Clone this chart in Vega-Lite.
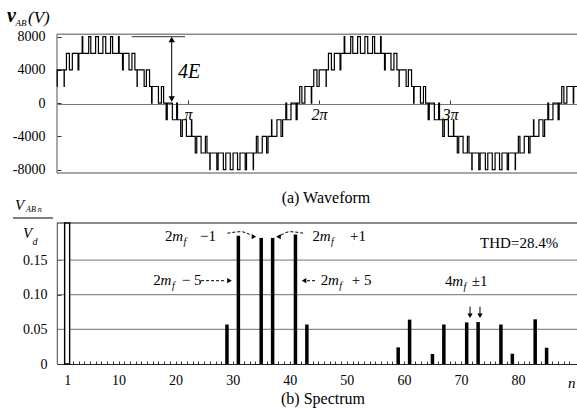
{
  "$schema": "https://vega.github.io/schema/vega-lite/v6.json",
  "width": 520,
  "height": 330,
  "autosize": {"type": "none"},
  "padding": {"left": 57, "top": 34, "right": 0, "bottom": 45},
  "background": "white",
  "config": {
    "view": {"stroke": null},
    "font": "Liberation Serif",
    "text": {"font": "Liberation Serif", "color": "black"},
    "axis": {"labelFont": "Liberation Serif", "labelColor": "black", "labelOverlap": false, "labelBound": false, "labelFlush": false, "grid": false, "title": null}
  },
  "datasets": {
    "wave": [
      {"t":0,"v":2000},{"t":0.0014,"v":4000},{"t":0.0542,"v":2000},{"t":0.0556,"v":4000},{"t":0.0721,"v":6000},{"t":0.0946,"v":4000},{"t":0.1171,"v":6000},{"t":0.1607,"v":4000},{"t":0.1667,"v":6000},{"t":0.1922,"v":8000},{"t":0.1967,"v":6000},{"t":0.2421,"v":8000},{"t":0.2579,"v":6000},{"t":0.2948,"v":8000},{"t":0.3163,"v":6000},{"t":0.3504,"v":8000},{"t":0.3719,"v":6000},{"t":0.4088,"v":8000},{"t":0.4246,"v":6000},{"t":0.47,"v":8000},{"t":0.4745,"v":6000},{"t":0.5,"v":4000},{"t":0.506,"v":6000},{"t":0.5496,"v":4000},{"t":0.5721,"v":6000},{"t":0.5946,"v":4000},{"t":0.6111,"v":2000},{"t":0.6125,"v":4000},{"t":0.6653,"v":2000},{"t":0.6823,"v":4000},{"t":0.7066,"v":2000},{"t":0.7222,"v":0},{"t":0.7256,"v":2000},{"t":0.7744,"v":0},{"t":0.7973,"v":2000},{"t":0.8138,"v":0},{"t":0.8333,"v":-2000},{"t":0.8416,"v":0},{"t":0.8807,"v":-2000},{"t":0.9133,"v":0},{"t":0.92,"v":-2000},{"t":0.9444,"v":-4000},{"t":0.9566,"v":-2000},{"t":0.9879,"v":-4000},{"t":1.0264,"v":-2000},{"t":1.0292,"v":-4000},{"t":1.0556,"v":-6000},{"t":1.0668,"v":-4000},{"t":1.0999,"v":-6000},{"t":1.1329,"v":-4000},{"t":1.1449,"v":-6000},{"t":1.1667,"v":-8000},{"t":1.1689,"v":-6000},{"t":1.22,"v":-8000},{"t":1.2301,"v":-6000},{"t":1.2699,"v":-8000},{"t":1.2885,"v":-6000},{"t":1.3226,"v":-8000},{"t":1.3441,"v":-6000},{"t":1.3781,"v":-8000},{"t":1.3968,"v":-6000},{"t":1.4366,"v":-8000},{"t":1.4467,"v":-6000},{"t":1.4977,"v":-8000},{"t":1.5,"v":-6000},{"t":1.5218,"v":-4000},{"t":1.5338,"v":-6000},{"t":1.5668,"v":-4000},{"t":1.5999,"v":-6000},{"t":1.6111,"v":-4000},{"t":1.6375,"v":-2000},{"t":1.6403,"v":-4000},{"t":1.6788,"v":-2000},{"t":1.7101,"v":-4000},{"t":1.7222,"v":-2000},{"t":1.7467,"v":0},{"t":1.7533,"v":-2000},{"t":1.786,"v":0},{"t":1.8251,"v":-2000},{"t":1.8333,"v":0},{"t":1.8529,"v":2000},{"t":1.8694,"v":0},{"t":1.8922,"v":2000},{"t":1.9411,"v":0},{"t":1.9444,"v":2000},{"t":1.9601,"v":4000},{"t":1.9844,"v":2000},
      {"t":2.0014,"v":4000},{"t":2.0542,"v":2000},{"t":2.0556,"v":4000},{"t":2.0721,"v":6000},{"t":2.0946,"v":4000},{"t":2.1171,"v":6000},{"t":2.1607,"v":4000},{"t":2.1667,"v":6000},{"t":2.1922,"v":8000},{"t":2.1967,"v":6000},{"t":2.2421,"v":8000},{"t":2.2579,"v":6000},{"t":2.2948,"v":8000},{"t":2.3163,"v":6000},{"t":2.3504,"v":8000},{"t":2.3719,"v":6000},{"t":2.4088,"v":8000},{"t":2.4246,"v":6000},{"t":2.47,"v":8000},{"t":2.4745,"v":6000},{"t":2.5,"v":4000},{"t":2.506,"v":6000},{"t":2.5496,"v":4000},{"t":2.5721,"v":6000},{"t":2.5946,"v":4000},{"t":2.6111,"v":2000},{"t":2.6125,"v":4000},{"t":2.6653,"v":2000},{"t":2.6823,"v":4000},{"t":2.7066,"v":2000},{"t":2.7222,"v":0},{"t":2.7256,"v":2000},{"t":2.7744,"v":0},{"t":2.7973,"v":2000},{"t":2.8138,"v":0},{"t":2.8333,"v":-2000},{"t":2.8416,"v":0},{"t":2.8807,"v":-2000},{"t":2.9133,"v":0},{"t":2.92,"v":-2000},{"t":2.9444,"v":-4000},{"t":2.9566,"v":-2000},{"t":2.9879,"v":-4000},{"t":3.0264,"v":-2000},{"t":3.0292,"v":-4000},{"t":3.0556,"v":-6000},{"t":3.0668,"v":-4000},{"t":3.0999,"v":-6000},{"t":3.1329,"v":-4000},{"t":3.1449,"v":-6000},{"t":3.1667,"v":-8000},{"t":3.1689,"v":-6000},{"t":3.22,"v":-8000},{"t":3.2301,"v":-6000},{"t":3.2699,"v":-8000},{"t":3.2885,"v":-6000},{"t":3.3226,"v":-8000},{"t":3.3441,"v":-6000},{"t":3.3781,"v":-8000},{"t":3.3968,"v":-6000},{"t":3.4366,"v":-8000},{"t":3.4467,"v":-6000},{"t":3.4977,"v":-8000},{"t":3.5,"v":-6000},{"t":3.5218,"v":-4000},{"t":3.5338,"v":-6000},{"t":3.5668,"v":-4000},{"t":3.5999,"v":-6000},{"t":3.6111,"v":-4000},{"t":3.6375,"v":-2000},{"t":3.6403,"v":-4000},{"t":3.6788,"v":-2000},{"t":3.7101,"v":-4000},{"t":3.7222,"v":-2000},{"t":3.7467,"v":0},{"t":3.7533,"v":-2000},{"t":3.786,"v":0},{"t":3.8251,"v":-2000},{"t":3.8333,"v":0},{"t":3.8529,"v":2000},{"t":3.8694,"v":0},{"t":3.8922,"v":2000},{"t":3.9411,"v":0},{"t":3.9444,"v":2000},{"t":3.9695,"v":2000}
    ],
    "wFrameH": [{"t":0,"t2":3.9695,"v":8300},{"t":0,"t2":3.9695,"v":-8400}],
    "wFrameV": [{"t":0,"v":-8400,"v2":8300}],
    "wRef": [{"t":0.57,"t2":0.977,"v":8000}],
    "wArrow": [{"t":0.8756,"v":300,"v2":7800}],
    "wHeadUp": [{"t":0.8756,"v":7665}],
    "wHeadDown": [{"t":0.8756,"v":501}],
    "wText4E": [{"t":0.9237,"v":3068,"s":"4E"}],
    "wTitleV": [{"t":-0.3817,"v":9755,"s":"v"}],
    "wTitleSub": [{"t":-0.3168,"v":9337,"s":"AB"}],
    "wTitleUnit": [{"t":-0.2214,"v":9635,"s":"(V)"}],
    "wCaption": [{"t":2.053,"v":-11976,"s":"(a)  Waveform"}],
    "sGrid": [{"n":0.1,"n2":89.45,"a":0.05},{"n":0.1,"n2":89.45,"a":0.1},{"n":0.1,"n2":89.45,"a":0.15}],
    "sTop": [{"n":0.1,"n2":89.45,"a":0.2035}],
    "sLeft": [{"n":0.15,"a":0,"a2":0.2035}],
    "bars": [
      {"n":29,"a":0.057},{"n":31,"a":0.185},{"n":35,"a":0.182},{"n":37,"a":0.182},{"n":41,"a":0.187},{"n":43,"a":0.057},
      {"n":59,"a":0.024},{"n":61,"a":0.064},{"n":65,"a":0.0145},{"n":67,"a":0.057},{"n":71,"a":0.060},{"n":73,"a":0.0605},
      {"n":77,"a":0.057},{"n":79,"a":0.0148},{"n":83,"a":0.0645},{"n":85,"a":0.0235}
    ],
    "fund": [{"n":1,"a":0.2035}],
    "sUp": [
      {"n":18.66,"a":0.1779,"s":"2"},{"n":24.67,"a":0.1779,"s":"−1"},
      {"n":44.0,"a":0.1779,"s":"2"},{"n":50.45,"a":0.1779,"s":"+1"},
      {"n":16.65,"a":0.1144,"s":"2"},{"n":21.53,"a":0.1144,"s":"− 5"},
      {"n":45.41,"a":0.1144,"s":"2"},{"n":50.74,"a":0.1144,"s":"+ 5"},
      {"n":66.77,"a":0.1123,"s":"4"},{"n":71.36,"a":0.1123,"s":"±1"},
      {"n":72.8,"a":0.1678,"s":"THD=28.4%"}
    ],
    "sIt": [
      {"n":19.91,"a":0.1779,"s":"m"},{"n":45.25,"a":0.1779,"s":"m"},{"n":17.9,"a":0.1144,"s":"m"},{"n":46.66,"a":0.1144,"s":"m"},{"n":68.02,"a":0.1123,"s":"m"},
      {"n":-7.11,"a":0.2227,"s":"V"},{"n":-5.74,"a":0.1823,"s":"V"},{"n":87.9,"a":-0.0342,"s":"n"}
    ],
    "sSub": [
      {"n":21.85,"a":0.1722,"s":"f"},{"n":47.19,"a":0.1722,"s":"f"},{"n":19.84,"a":0.1087,"s":"f"},{"n":48.6,"a":0.1087,"s":"f"},{"n":69.96,"a":0.1072,"s":"f"},
      {"n":-4.11,"a":0.1721,"s":"d"}
    ],
    "sSub8": [{"n":-5.22,"a":0.219,"s":"AB n"}],
    "sFracLine": [{"n":-7.46,"n2":-0.58,"a":0.2107}],
    "sCaption": [{"n":45.81,"a":-0.0573,"s":"(b)  Spectrum"}],
    "sDash": [
      {"id":"A","n":29.38,"a":0.1887},{"id":"A","n":31.72,"a":0.1909},{"id":"A","n":33.44,"a":0.1859},
      {"id":"B","n":38.59,"a":0.1859},{"id":"B","n":40.14,"a":0.1909},{"id":"B","n":42.37,"a":0.1887},
      {"id":"C","n":24.85,"a":0.1202},{"id":"C","n":29.14,"a":0.1202},
      {"id":"D","n":43.06,"a":0.1202},{"id":"D","n":44.78,"a":0.1202}
    ],
    "sHeadR": [{"n":33.95,"a":0.1837},{"n":29.74,"a":0.1202}],
    "sHeadL": [{"n":38.16,"a":0.1837},{"n":42.54,"a":0.1202}],
    "sVArrow": [{"n":71.07,"a":0.0827,"a2":0.0697},{"n":72.78,"a":0.0827,"a2":0.0697}],
    "sHeadD": [{"n":71.07,"a":0.0697},{"n":72.78,"a":0.0697}]
  },
  "layer": [
    {"data":{"name":"wFrameH"},"mark":{"type":"rule","color":"#8a8a8a","strokeWidth":1.5},
     "encoding":{"x":{"field":"t","type":"quantitative","scale":{"domain":[0,3.9695],"nice":false,"zero":false},"axis":null},"x2":{"field":"t2"},
                 "y":{"field":"v","type":"quantitative","scale":{"domain":[-31402,8322],"nice":false,"zero":false},"axis":null}}},
    {"data":{"name":"wFrameV"},"mark":{"type":"rule","color":"#555","strokeWidth":1},
     "encoding":{"x":{"field":"t","type":"quantitative","scale":{"domain":[0,3.9695],"nice":false,"zero":false},"axis":null},
                 "y":{"field":"v","type":"quantitative","scale":{"domain":[-31402,8322],"nice":false,"zero":false},"axis":null},"y2":{"field":"v2"}}},
    {"data":{"name":"wRef"},"mark":{"type":"rule","color":"#333","strokeWidth":1},
     "encoding":{"x":{"field":"t","type":"quantitative","scale":{"domain":[0,3.9695],"nice":false,"zero":false},"axis":null},"x2":{"field":"t2"},
                 "y":{"field":"v","type":"quantitative","scale":{"domain":[-31402,8322],"nice":false,"zero":false},"axis":null}}},
    {"data":{"name":"wave"},"mark":{"type":"line","interpolate":"step-after","color":"black","strokeWidth":1.2},
     "encoding":{
       "x":{"field":"t","type":"quantitative","scale":{"domain":[0,3.9695],"nice":false,"zero":false},
            "axis":{"orient":"bottom","offset":-260,"values":[1,2,3],"labelExpr":"datum.value == 1 ? 'π' : datum.value + 'π'",
                    "tickSize":-4,"tickColor":"#333","domain":true,"domainColor":"#777","domainWidth":1.2,
                    "labelFontSize":16,"labelFontStyle":"italic","labelPadding":6,"labelDx":4}},
       "y":{"field":"v","type":"quantitative","scale":{"domain":[-31402,8322],"nice":false,"zero":false},
            "axis":{"orient":"left","values":[8000,4000,0,-4000,-8000],"labelExpr":"datum.value < 0 ? '-' + abs(datum.value) : '' + datum.value",
                    "tickSize":-4,"tickColor":"#333","domain":false,"labelFontSize":14,"labelPadding":16}}}},
    {"data":{"name":"wArrow"},"mark":{"type":"rule","color":"black","strokeWidth":1},
     "encoding":{"x":{"field":"t","type":"quantitative","scale":{"domain":[0,3.9695],"nice":false,"zero":false},"axis":null},
                 "y":{"field":"v","type":"quantitative","scale":{"domain":[-31402,8322],"nice":false,"zero":false},"axis":null},"y2":{"field":"v2"}}},
    {"data":{"name":"wHeadUp"},"mark":{"type":"point","shape":"triangle-up","filled":true,"color":"black","size":40,"opacity":1},
     "encoding":{"x":{"field":"t","type":"quantitative","scale":{"domain":[0,3.9695],"nice":false,"zero":false},"axis":null},
                 "y":{"field":"v","type":"quantitative","scale":{"domain":[-31402,8322],"nice":false,"zero":false},"axis":null}}},
    {"data":{"name":"wHeadDown"},"mark":{"type":"point","shape":"triangle-down","filled":true,"color":"black","size":40,"opacity":1},
     "encoding":{"x":{"field":"t","type":"quantitative","scale":{"domain":[0,3.9695],"nice":false,"zero":false},"axis":null},
                 "y":{"field":"v","type":"quantitative","scale":{"domain":[-31402,8322],"nice":false,"zero":false},"axis":null}}},
    {"data":{"name":"wText4E"},"mark":{"type":"text","fontStyle":"italic","fontSize":20,"align":"left","baseline":"alphabetic"},
     "encoding":{"x":{"field":"t","type":"quantitative","scale":{"domain":[0,3.9695],"nice":false,"zero":false},"axis":null},
                 "y":{"field":"v","type":"quantitative","scale":{"domain":[-31402,8322],"nice":false,"zero":false},"axis":null},"text":{"field":"s"}}},
    {"data":{"name":"wTitleV"},"mark":{"type":"text","fontStyle":"italic","fontWeight":"bold","fontSize":20,"align":"left","baseline":"alphabetic"},
     "encoding":{"x":{"field":"t","type":"quantitative","scale":{"domain":[0,3.9695],"nice":false,"zero":false},"axis":null},
                 "y":{"field":"v","type":"quantitative","scale":{"domain":[-31402,8322],"nice":false,"zero":false},"axis":null},"text":{"field":"s"}}},
    {"data":{"name":"wTitleSub"},"mark":{"type":"text","fontStyle":"italic","fontSize":9,"align":"left","baseline":"alphabetic"},
     "encoding":{"x":{"field":"t","type":"quantitative","scale":{"domain":[0,3.9695],"nice":false,"zero":false},"axis":null},
                 "y":{"field":"v","type":"quantitative","scale":{"domain":[-31402,8322],"nice":false,"zero":false},"axis":null},"text":{"field":"s"}}},
    {"data":{"name":"wTitleUnit"},"mark":{"type":"text","fontStyle":"italic","fontSize":17,"align":"left","baseline":"alphabetic"},
     "encoding":{"x":{"field":"t","type":"quantitative","scale":{"domain":[0,3.9695],"nice":false,"zero":false},"axis":null},
                 "y":{"field":"v","type":"quantitative","scale":{"domain":[-31402,8322],"nice":false,"zero":false},"axis":null},"text":{"field":"s"}}},
    {"data":{"name":"wCaption"},"mark":{"type":"text","fontSize":16,"align":"center","baseline":"alphabetic"},
     "encoding":{"x":{"field":"t","type":"quantitative","scale":{"domain":[0,3.9695],"nice":false,"zero":false},"axis":null},
                 "y":{"field":"v","type":"quantitative","scale":{"domain":[-31402,8322],"nice":false,"zero":false},"axis":null},"text":{"field":"s"}}},
    {"data":{"name":"sGrid"},"mark":{"type":"rule","color":"#8c8c8c","strokeWidth":1.2},
     "encoding":{"x":{"field":"n","type":"quantitative","scale":{"domain":[0.1,89.45],"nice":false,"zero":false},"axis":null},"x2":{"field":"n2"},
                 "y":{"field":"a","type":"quantitative","scale":{"domain":[0,0.4762],"nice":false,"zero":false},"axis":null}}},
    {"data":{"name":"sTop"},"mark":{"type":"rule","color":"#8c8c8c","strokeWidth":2},
     "encoding":{"x":{"field":"n","type":"quantitative","scale":{"domain":[0.1,89.45],"nice":false,"zero":false},"axis":null},"x2":{"field":"n2"},
                 "y":{"field":"a","type":"quantitative","scale":{"domain":[0,0.4762],"nice":false,"zero":false},"axis":null}}},
    {"data":{"name":"sLeft"},"mark":{"type":"rule","color":"#444","strokeWidth":1},
     "encoding":{"x":{"field":"n","type":"quantitative","scale":{"domain":[0.1,89.45],"nice":false,"zero":false},"axis":null},
                 "y":{"field":"a","type":"quantitative","scale":{"domain":[0,0.4762],"nice":false,"zero":false},"axis":null},"y2":{"field":"a2"}}},
    {"data":{"name":"bars"},"mark":{"type":"bar","color":"black","size":3.5},
     "encoding":{
       "x":{"field":"n","type":"quantitative","scale":{"domain":[0.1,89.45],"nice":false,"zero":false},
            "axis":{"orient":"bottom","values":[1,2,3,4,5,6,7,8,9,10,11,12,13,14,15,16,17,18,19,20,21,22,23,24,25,26,27,28,29,30,31,32,33,34,35,36,37,38,39,40,41,42,43,44,45,46,47,48,49,50,51,52,53,54,55,56,57,58,59,60,61,62,63,64,65,66,67,68,69,70,71,72,73,74,75,76,77,78,79,80,81,82,83,84,85,86,87,88,89],
                    "labelExpr":"indexof([1,10,20,30,40,50,60,70,80], datum.value) >= 0 ? datum.label : ''",
                    "tickSize":-3,"tickColor":"#333","domain":true,"domainColor":"#222","domainWidth":1.2,
                    "labelFontSize":14,"labelPadding":12}},
       "y":{"field":"a","type":"quantitative","scale":{"domain":[0,0.4762],"nice":false,"zero":false},
            "axis":{"orient":"left","values":[0,0.05,0.1,0.15],"labelExpr":"datum.value == 0 ? '0' : format(datum.value, '.2f')",
                    "tickSize":-4,"tickColor":"#333","domain":false,"labelFontSize":14,"labelPadding":14}}}},
    {"data":{"name":"fund"},"mark":{"type":"bar","fill":"white","stroke":"black","strokeWidth":1.4,"size":5},
     "encoding":{"x":{"field":"n","type":"quantitative","scale":{"domain":[0.1,89.45],"nice":false,"zero":false},"axis":null},
                 "y":{"field":"a","type":"quantitative","scale":{"domain":[0,0.4762],"nice":false,"zero":false},"axis":null}}},
    {"data":{"name":"sFracLine"},"mark":{"type":"rule","color":"black","strokeWidth":1},
     "encoding":{"x":{"field":"n","type":"quantitative","scale":{"domain":[0.1,89.45],"nice":false,"zero":false},"axis":null},"x2":{"field":"n2"},
                 "y":{"field":"a","type":"quantitative","scale":{"domain":[0,0.4762],"nice":false,"zero":false},"axis":null}}},
    {"data":{"name":"sDash"},"mark":{"type":"line","color":"black","strokeWidth":1,"strokeDash":[3,2],"interpolate":"monotone"},
     "encoding":{"x":{"field":"n","type":"quantitative","scale":{"domain":[0.1,89.45],"nice":false,"zero":false},"axis":null},
                 "y":{"field":"a","type":"quantitative","scale":{"domain":[0,0.4762],"nice":false,"zero":false},"axis":null},"detail":{"field":"id"}}},
    {"data":{"name":"sHeadR"},"mark":{"type":"point","shape":"triangle-right","filled":true,"color":"black","size":28,"opacity":1},
     "encoding":{"x":{"field":"n","type":"quantitative","scale":{"domain":[0.1,89.45],"nice":false,"zero":false},"axis":null},
                 "y":{"field":"a","type":"quantitative","scale":{"domain":[0,0.4762],"nice":false,"zero":false},"axis":null}}},
    {"data":{"name":"sHeadL"},"mark":{"type":"point","shape":"triangle-left","filled":true,"color":"black","size":28,"opacity":1},
     "encoding":{"x":{"field":"n","type":"quantitative","scale":{"domain":[0.1,89.45],"nice":false,"zero":false},"axis":null},
                 "y":{"field":"a","type":"quantitative","scale":{"domain":[0,0.4762],"nice":false,"zero":false},"axis":null}}},
    {"data":{"name":"sVArrow"},"mark":{"type":"rule","color":"black","strokeWidth":1},
     "encoding":{"x":{"field":"n","type":"quantitative","scale":{"domain":[0.1,89.45],"nice":false,"zero":false},"axis":null},
                 "y":{"field":"a","type":"quantitative","scale":{"domain":[0,0.4762],"nice":false,"zero":false},"axis":null},"y2":{"field":"a2"}}},
    {"data":{"name":"sHeadD"},"mark":{"type":"point","shape":"triangle-down","filled":true,"color":"black","size":28,"opacity":1},
     "encoding":{"x":{"field":"n","type":"quantitative","scale":{"domain":[0.1,89.45],"nice":false,"zero":false},"axis":null},
                 "y":{"field":"a","type":"quantitative","scale":{"domain":[0,0.4762],"nice":false,"zero":false},"axis":null}}},
    {"data":{"name":"sUp"},"mark":{"type":"text","fontSize":15,"align":"left","baseline":"alphabetic"},
     "encoding":{"x":{"field":"n","type":"quantitative","scale":{"domain":[0.1,89.45],"nice":false,"zero":false},"axis":null},
                 "y":{"field":"a","type":"quantitative","scale":{"domain":[0,0.4762],"nice":false,"zero":false},"axis":null},"text":{"field":"s"}}},
    {"data":{"name":"sIt"},"mark":{"type":"text","fontStyle":"italic","fontSize":15,"align":"left","baseline":"alphabetic"},
     "encoding":{"x":{"field":"n","type":"quantitative","scale":{"domain":[0.1,89.45],"nice":false,"zero":false},"axis":null},
                 "y":{"field":"a","type":"quantitative","scale":{"domain":[0,0.4762],"nice":false,"zero":false},"axis":null},"text":{"field":"s"}}},
    {"data":{"name":"sSub"},"mark":{"type":"text","fontStyle":"italic","fontSize":10,"align":"left","baseline":"alphabetic"},
     "encoding":{"x":{"field":"n","type":"quantitative","scale":{"domain":[0.1,89.45],"nice":false,"zero":false},"axis":null},
                 "y":{"field":"a","type":"quantitative","scale":{"domain":[0,0.4762],"nice":false,"zero":false},"axis":null},"text":{"field":"s"}}},
    {"data":{"name":"sSub8"},"mark":{"type":"text","fontStyle":"italic","fontSize":8,"align":"left","baseline":"alphabetic"},
     "encoding":{"x":{"field":"n","type":"quantitative","scale":{"domain":[0.1,89.45],"nice":false,"zero":false},"axis":null},
                 "y":{"field":"a","type":"quantitative","scale":{"domain":[0,0.4762],"nice":false,"zero":false},"axis":null},"text":{"field":"s"}}},
    {"data":{"name":"sCaption"},"mark":{"type":"text","fontSize":16,"align":"center","baseline":"alphabetic"},
     "encoding":{"x":{"field":"n","type":"quantitative","scale":{"domain":[0.1,89.45],"nice":false,"zero":false},"axis":null},
                 "y":{"field":"a","type":"quantitative","scale":{"domain":[0,0.4762],"nice":false,"zero":false},"axis":null},"text":{"field":"s"}}}
  ],
  "resolve": {"scale": {"x": "independent", "y": "independent"}, "axis": {"x": "independent", "y": "independent"}}
}
